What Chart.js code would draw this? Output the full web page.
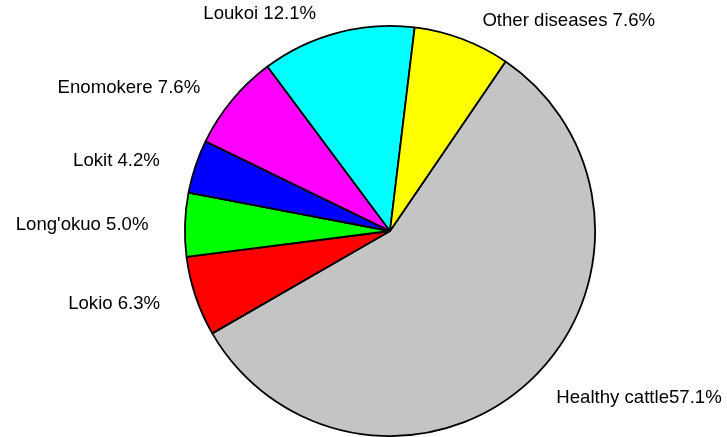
<!DOCTYPE html>
<html>
<head>
<meta charset="utf-8">
<script src="https://cdn.jsdelivr.net/npm/chart.js@4/dist/chart.umd.min.js"></script>
<style>
  html, body { margin: 0; padding: 0; background: #fff; }
  #wrap { width: 727px; height: 437px; }
</style>
</head>
<body>
<div id="wrap"><canvas id="pie"></canvas></div>
<script>
// slices listed clockwise, starting with the big grey one
const categories = ["Healthy cattle", "Lokio ", "Long'okuo ", "Lokit ", "Enomokere ", "Loukoi ", "Other diseases "];
const percents = [57.1, 6.3, 5.0, 4.2, 7.6, 12.1, 7.6];
const sliceColors = ["#c4c4c4", "#ff0000", "#00ff00", "#0000ff", "#ff00ff", "#00ffff", "#ffff00"];

// R-style labels placed just outside the pie, left/right aligned by side
const outsideLabels = {
    id: "outsideLabels",
    afterDraw(chart) {
        const ctx = chart.ctx;
        const arcs = chart.getDatasetMeta(0).data;
        ctx.save();
        ctx.font = "18.6px 'Liberation Sans', Arial, sans-serif";
        ctx.fillStyle = "#000";
        ctx.textBaseline = "middle";
        arcs.forEach((arc, i) => {
            const mid = (arc.startAngle + arc.endAngle) / 2;
            const r = arc.outerRadius * 1.1;
            const c = Math.cos(mid);
            const pad = c >= 0 ? 13 : -16;
            const x = arc.x + r * c + pad;
            const y = arc.y + r * Math.sin(mid) + 1;
            ctx.textAlign = c >= 0 ? "left" : "right";
            ctx.fillText(categories[i] + percents[i].toFixed(1) + "%", x, y);
        });
        ctx.restore();
    }
};

new Chart(document.getElementById("pie"), {
    type: "pie",
    data: {
        labels: categories,
        datasets: [{
            data: percents,
            backgroundColor: sliceColors,
            borderColor: "#000",
            borderWidth: 1.8
        }]
    },
    options: {
        responsive: true,
        maintainAspectRatio: false,
        animation: false,
        rotation: 34.3,
        layout: { padding: { left: 100, right: 47, top: 25, bottom: 0 } },
        plugins: {
            legend: { display: false },
            tooltip: { enabled: false }
        }
    },
    plugins: [outsideLabels]
});
</script>
</body>
</html>
